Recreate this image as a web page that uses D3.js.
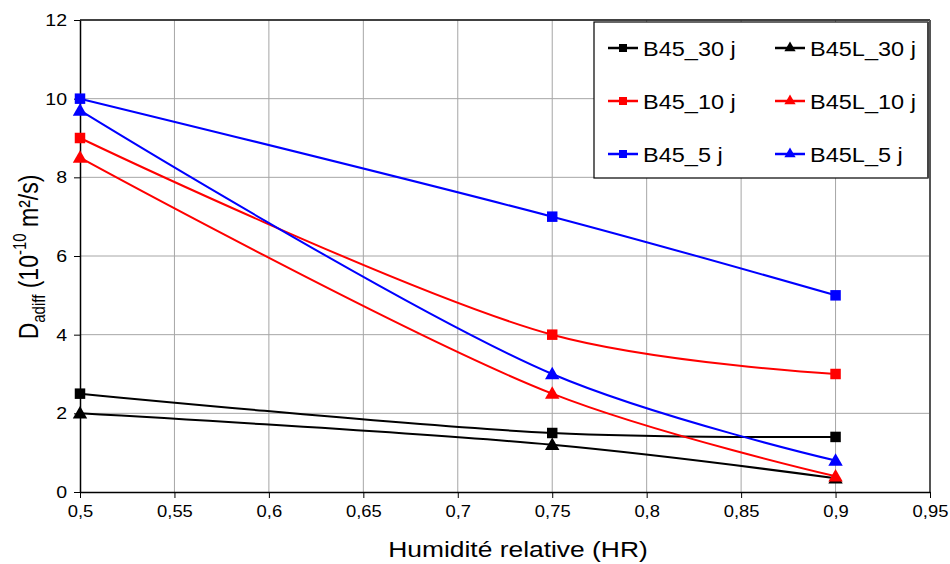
<!DOCTYPE html>
<html>
<head>
<meta charset="utf-8">
<script src="https://cdn.jsdelivr.net/npm/d3@7"></script>
<style>
  body { margin: 0; background: #fff; }
  svg { display: block; font-family: "Liberation Sans", Arial, sans-serif; }
</style>
</head>
<body>
<div id="chart"></div>
<script>
// Humidity values (x) shared by every series
const humidity = [0.5, 0.75, 0.9];

// Diffusion coefficient values, 10^-10 m²/s
const b45_30 = [2.5, 1.5, 1.4];
const b45l_30 = [2.0, 1.2, 0.35];
const b45_10 = [9.0, 4.0, 3.0];
const b45l_10 = [8.5, 2.5, 0.4];
const b45_5 = [10.0, 7.0, 5.0];
const b45l_5 = [9.7, 3.0, 0.8];

const seriesNames = ["B45_30 j", "B45L_30 j", "B45_10 j", "B45L_10 j", "B45_5 j", "B45L_5 j"];
const seriesValues = [b45_30, b45l_30, b45_10, b45l_10, b45_5, b45l_5];
const seriesColors = ["#000000", "#000000", "#ff0000", "#ff0000", "#0000ff", "#0000ff"];
const seriesMarkers = ["square", "triangle", "square", "triangle", "square", "triangle"];

const xTicks = [0.5, 0.55, 0.6, 0.65, 0.7, 0.75, 0.8, 0.85, 0.9, 0.95];
const yTicks = [0, 2, 4, 6, 8, 10, 12];

const W = 950, H = 564;
const margin = { top: 20, right: 20, bottom: 72, left: 80 };
const width = W - margin.left - margin.right;
const height = H - margin.top - margin.bottom;
const stretch = 1.15; // the original text is a bit wide

const svg = d3.select("#chart").append("svg")
    .attr("width", W)
    .attr("height", H);

const g = svg.append("g")
    .attr("transform", `translate(${margin.left},${margin.top})`);

const x = d3.scaleLinear().domain([0.5, 0.95]).range([0, width]);
const y = d3.scaleLinear().domain([0, 12]).range([height, 0]);

// Grid lines
g.append("g").selectAll("line")
    .data(xTicks.slice(1))
    .enter().append("line")
    .attr("x1", d => x(d)).attr("x2", d => x(d))
    .attr("y1", 0).attr("y2", height)
    .attr("stroke", "#a6a6a6").attr("stroke-width", 1);

g.append("g").selectAll("line")
    .data(yTicks.slice(1))
    .enter().append("line")
    .attr("x1", 0).attr("x2", width)
    .attr("y1", d => y(d)).attr("y2", d => y(d))
    .attr("stroke", "#a6a6a6").attr("stroke-width", 1);

// Plot area frame (top and right)
g.append("line").attr("x1", 0).attr("x2", width).attr("y1", 0).attr("y2", 0)
    .attr("stroke", "#111").attr("stroke-width", 1.5);
g.append("line").attr("x1", width).attr("x2", width).attr("y1", 0).attr("y2", height)
    .attr("stroke", "#555").attr("stroke-width", 2);

// Axes
const xAxis = g.append("g")
    .attr("transform", `translate(0,${height})`)
    .call(d3.axisBottom(x).tickValues(xTicks).tickSize(6).tickSizeOuter(0)
        .tickFormat(d => String(d).replace(".", ",")));
const yAxis = g.append("g")
    .call(d3.axisLeft(y).tickValues(yTicks).tickSize(6).tickSizeOuter(0));

[xAxis, yAxis].forEach(ax => {
    ax.select(".domain").attr("stroke", "#000").attr("stroke-width", 1.5);
    ax.selectAll(".tick line").attr("stroke", "#000").attr("stroke-width", 1);
    ax.selectAll(".tick text").attr("fill", "#000")
        .style("font-family", "'Liberation Sans', Arial, sans-serif");
});
xAxis.selectAll(".tick text")
    .style("font-size", "16px")
    .attr("y", 14)
    .attr("dy", "0.71em")
    .attr("transform", `scale(${stretch},1)`);
yAxis.selectAll(".tick text")
    .style("font-size", "17px")
    .attr("x", -13 / stretch)
    .attr("transform", `scale(${stretch},1)`);

// Axis titles
svg.append("text")
    .attr("transform", "translate(518,557) scale(1.2,1)")
    .attr("text-anchor", "middle")
    .style("font-size", "22px")
    .text("Humidité relative (HR)");

const yTitle = svg.append("text")
    .attr("transform", `translate(38,257) scale(1.18,1) rotate(-90)`)
    .attr("text-anchor", "middle")
    .style("font-size", "23px");
yTitle.append("tspan").text("D");
yTitle.append("tspan").attr("dy", 6).style("font-size", "15px").text("adiff");
yTitle.append("tspan").attr("dy", -6).text(" (10");
yTitle.append("tspan").attr("dy", -10).style("font-size", "15px").text("-10");
yTitle.append("tspan").attr("dy", 10).text("  m²/s)");

// Lines (smoothed like the original)
const line = d3.line()
    .x(d => x(d[0]))
    .y(d => y(d[1]))
    .curve(d3.curveCatmullRom.alpha(0.5));

const markerSquare = d3.symbol().type(d3.symbolSquare).size(110);
const markerTriangle = d3.symbol().type(d3.symbolTriangle).size(90);

seriesValues.forEach((vals, i) => {
    const pts = humidity.map((h, j) => [h, vals[j]]);
    g.append("path")
        .datum(pts)
        .attr("fill", "none")
        .attr("stroke", seriesColors[i])
        .attr("stroke-width", 2)
        .attr("d", line);
});

seriesValues.forEach((vals, i) => {
    const tri = seriesMarkers[i] === "triangle";
    g.append("g").selectAll("path")
        .data(humidity.map((h, j) => [h, vals[j]]))
        .enter().append("path")
        .attr("transform", d => `translate(${x(d[0])},${y(d[1]) + (tri ? 1 : 0)})`)
        .attr("d", tri ? markerTriangle() : markerSquare())
        .attr("fill", seriesColors[i]);
});

// Legend
const legend = svg.append("g").attr("transform", "translate(594,22)");
legend.append("rect")
    .attr("width", 334).attr("height", 156)
    .attr("fill", "#fff").attr("stroke", "#000").attr("stroke-width", 1.2);
legend.append("line").attr("x1", 334).attr("x2", 334).attr("y1", 0).attr("y2", 156)
    .attr("stroke", "#444").attr("stroke-width", 2);

seriesNames.forEach((name, i) => {
    const col = i % 2, row = Math.floor(i / 2);
    const item = legend.append("g")
        .attr("transform", `translate(${col === 0 ? 14 : 181},${26 + row * 53})`);
    item.append("line").attr("x1", 0).attr("x2", 30)
        .attr("stroke", seriesColors[i]).attr("stroke-width", 2.5);
    item.append("path")
        .attr("transform", "translate(15,0)")
        .attr("d", seriesMarkers[i] === "square"
            ? d3.symbol().type(d3.symbolSquare).size(64)()
            : d3.symbol().type(d3.symbolTriangle).size(55)())
        .attr("fill", seriesColors[i]);
    item.append("text")
        .attr("transform", "translate(35,0) scale(1.12,1)")
        .attr("dy", "0.36em")
        .style("font-size", "21px")
        .text(name);
});
</script>
</body>
</html>
